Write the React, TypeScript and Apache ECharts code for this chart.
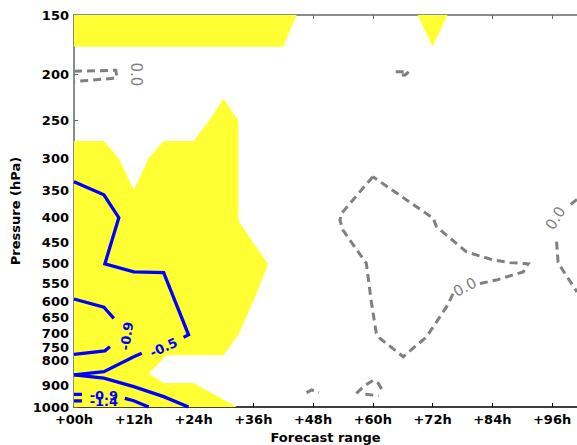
import React, { useEffect, useRef } from "react";
import * as echarts from "echarts";

// ---------- data (hours, hPa) ----------
const hourTicks = [0, 12, 24, 36, 48, 60, 72, 84, 96];
const pressureTicks = [150, 200, 250, 300, 350, 400, 450, 500, 550, 600, 650, 700, 750, 800, 900, 1000];

// yellow shaded regions
const yellowTop = [[0, 150], [44.7, 150], [42, 175], [0, 175]];
const yellowTopRight = [[69, 150], [75, 150], [72, 175]];
const yellowMain = [
  [0, 276], [6, 276], [9, 300], [12, 350], [15, 300], [18, 276], [24, 276], [27, 251], [30, 225],
  [33, 250], [33, 405], [36, 452], [39, 500], [36.7, 577], [33, 706], [30, 778], [18.6, 778],
  [15, 850], [18, 890], [24, 890], [32.7, 1000], [0, 1000],
];

// blue contours
const blueM05a = [[0, 336], [6, 358], [9, 400], [6.2, 500], [12, 520], [18, 522], [23, 705], [22, 714]];
const blueM05b = [[13.6, 771], [12, 784], [6, 843], [0, 856]];
const blueM05c = [[0, 856], [6, 870], [12, 906], [18, 951], [23, 1000]];
const blueM09a = [[0, 593], [6, 617], [8, 651]];
const blueM09b = [[7.2, 747], [6.2, 762], [0, 775]];
const blueM09c = [[10.2, 959], [12, 970], [15, 1000]];
const blueM09d = [[0, 941], [1.6, 941]];
const blueM14 = [[0, 971], [1.6, 971]];

// gray dashed contours
const grayTopLeft = [[0, 197], [8.4, 196], [8.6, 203], [7.5, 204], [0, 207]];
const grayTiny = [[64.6, 197.5], [67.2, 197.5], [66.5, 200.5], [65.3, 200.5]];
const grayLoopA = [
  [60, 328], [53.7, 392], [53.4, 405], [54, 425], [58.7, 499], [59, 528], [59.7, 601], [60.7, 700],
  [61.4, 717], [66.1, 784], [70.8, 712], [74.8, 616], [76.5, 568],
];
const grayLoopB = [
  [81.5, 550], [84.8, 541], [90.2, 520], [91.2, 500], [87.5, 497], [84.2, 491], [78.8, 472],
  [72.8, 418], [72.1, 401], [60, 328],
];
const grayRightA = [[101, 366], [99.2, 379]];
const grayRightB = [[96.9, 449], [97.2, 496], [97.9, 511], [101, 573]];
const graySmallA = [[46.7, 933], [47.7, 921], [49.2, 933]];
const graySmallB = [[56.7, 936], [58.2, 905], [60.1, 878], [61.1, 892], [62.1, 929]];
const graySmallC = [[58.5, 940], [61.2, 947]];

// contour labels
const labelTexts = ["-0.5", "-0.9", "-0.9", "-1.4", "0.0", "0.0", "0.0"];
const labelHours = [18, 10.6, 6, 6, 12.5, 78.5, 96.7];
const labelPressures = [750, 709, 944, 972, 200, 560, 401];
const labelKinds = ["blue", "blue", "blue", "blue", "gray", "gray", "gray"];

// ---------- styling ----------
const FONT = "DejaVu Sans";
const YELLOW = "#ffff33";
const BLUE = "#0000ff";
const GRAY = "#808080";
const labelAngles = [24, 82, 0, 0, -90, 28, 58];

const toXY = (pts: number[][]) => pts.map(([h, p]) => [h, Math.log(p)]);

function polygonSeries(points: number[][], color: string) {
  const data = toXY(points);
  return {
    type: "custom",
    silent: true,
    clip: true,
    z: 1,
    data,
    renderItem: (params: any, api: any) => {
      if (params.dataIndex !== 0) return { type: "group", children: [] };
      const pts = data.map((d) => api.coord(d));
      return { type: "polygon", shape: { points: pts }, style: { fill: color } };
    },
  };
}

function lineSeries(points: number[][], color: string, dashed: boolean) {
  return {
    type: "line",
    data: toXY(points),
    showSymbol: false,
    symbol: "none",
    silent: true,
    clip: true,
    z: 3,
    lineStyle: { color, width: dashed ? 3 : 3.3, type: dashed ? [8, 5] : "solid", cap: "butt", join: "miter" },
  };
}

export default function App() {
  const ref = useRef<HTMLDivElement>(null);
  useEffect(() => {
    if (!ref.current) return;
    const chart = echarts.init(ref.current, null, { renderer: "svg" });
    const yTicks = pressureTicks.map((p) => Math.log(p));
    const fmtH = (v: number) => (Math.abs(v % 12) < 1e-6 ? "+" + String(Math.round(v)).padStart(2, "0") + "h" : "");
    const labelData = labelHours.map((h, i) => [h, Math.log(labelPressures[i])]);
    chart.setOption({
      animation: false,
      grid: { left: 74, right: 0, top: 15, height: 392, containLabel: false, outerBoundsMode: "none" },
      xAxis: [
        {
          type: "value",
          min: 0,
          max: 101,
          interval: 12,
          position: "bottom",
          axisLine: { show: true, onZero: false, lineStyle: { color: "#000", width: 1.5 } },
          axisTick: { show: true, inside: true, length: 4, lineStyle: { color: "#000" } },
          axisLabel: { formatter: fmtH, margin: 6, fontWeight: "bold", fontSize: 13, color: "#000", fontFamily: FONT },
          splitLine: { show: false },
          name: "Forecast range",
          nameLocation: "middle",
          nameGap: 24,
          nameTextStyle: { fontWeight: "bold", fontSize: 13, color: "#000", fontFamily: FONT },
        },
        {
          type: "value",
          min: 0,
          max: 101,
          interval: 12,
          position: "top",
          axisLine: { show: true, onZero: false, lineStyle: { color: "#666", width: 1.5 } },
          axisTick: { show: true, inside: true, length: 4, lineStyle: { color: "#666" } },
          axisLabel: { show: false },
          splitLine: { show: false },
        },
      ],
      yAxis: {
        type: "value",
        inverse: true,
        min: Math.log(150),
        max: Math.log(1000),
        axisLine: { show: true, onZero: false, lineStyle: { color: "#666", width: 1.5 } },
        axisTick: { show: true, inside: true, length: 4, customValues: yTicks, lineStyle: { color: "#666" } },
        axisLabel: {
          customValues: yTicks,
          formatter: (v: number) => String(Math.round(Math.exp(v))),
          margin: 5,
          fontWeight: "bold",
          fontSize: 13,
          color: "#000",
          fontFamily: FONT,
        },
        splitLine: { show: false },
        name: "Pressure (hPa)",
        nameLocation: "middle",
        nameRotate: 90,
        nameGap: 45,
        nameTextStyle: { fontWeight: "bold", fontSize: 13, color: "#000", fontFamily: FONT },
      },
      series: [
        polygonSeries(yellowTop, YELLOW),
        polygonSeries(yellowTopRight, YELLOW),
        polygonSeries(yellowMain, YELLOW),
        lineSeries(blueM05a, BLUE, false),
        lineSeries(blueM05b, BLUE, false),
        lineSeries(blueM05c, BLUE, false),
        lineSeries(blueM09a, BLUE, false),
        lineSeries(blueM09b, BLUE, false),
        lineSeries(blueM09c, BLUE, false),
        lineSeries(blueM09d, BLUE, false),
        lineSeries(blueM14, BLUE, false),
        lineSeries(grayTopLeft, GRAY, true),
        lineSeries(grayTiny, GRAY, true),
        lineSeries(grayLoopA, GRAY, true),
        lineSeries(grayLoopB, GRAY, true),
        lineSeries(grayRightA, GRAY, true),
        lineSeries(grayRightB, GRAY, true),
        lineSeries(graySmallA, GRAY, true),
        lineSeries(graySmallB, GRAY, true),
        lineSeries(graySmallC, GRAY, true),
        {
          type: "custom",
          silent: true,
          z: 5,
          data: labelData,
          renderItem: (params: any, api: any) => {
            const i = params.dataIndex;
            const [x, y] = api.coord([api.value(0), api.value(1)]);
            const isBlue = labelKinds[i] === "blue";
            return {
              type: "text",
              x,
              y,
              rotation: (labelAngles[i] * Math.PI) / 180,
              style: {
                text: labelTexts[i],
                fill: isBlue ? BLUE : GRAY,
                fontFamily: FONT,
                fontSize: isBlue ? 13 : 15,
                fontWeight: isBlue ? "bold" : "normal",
                align: "center",
                verticalAlign: "middle",
              },
            };
          },
        },
      ],
    });
    return () => chart.dispose();
  }, []);
  return <div ref={ref} style={{ position: "absolute", left: 0, top: 0, width: 577, height: 445 }} />;
}
